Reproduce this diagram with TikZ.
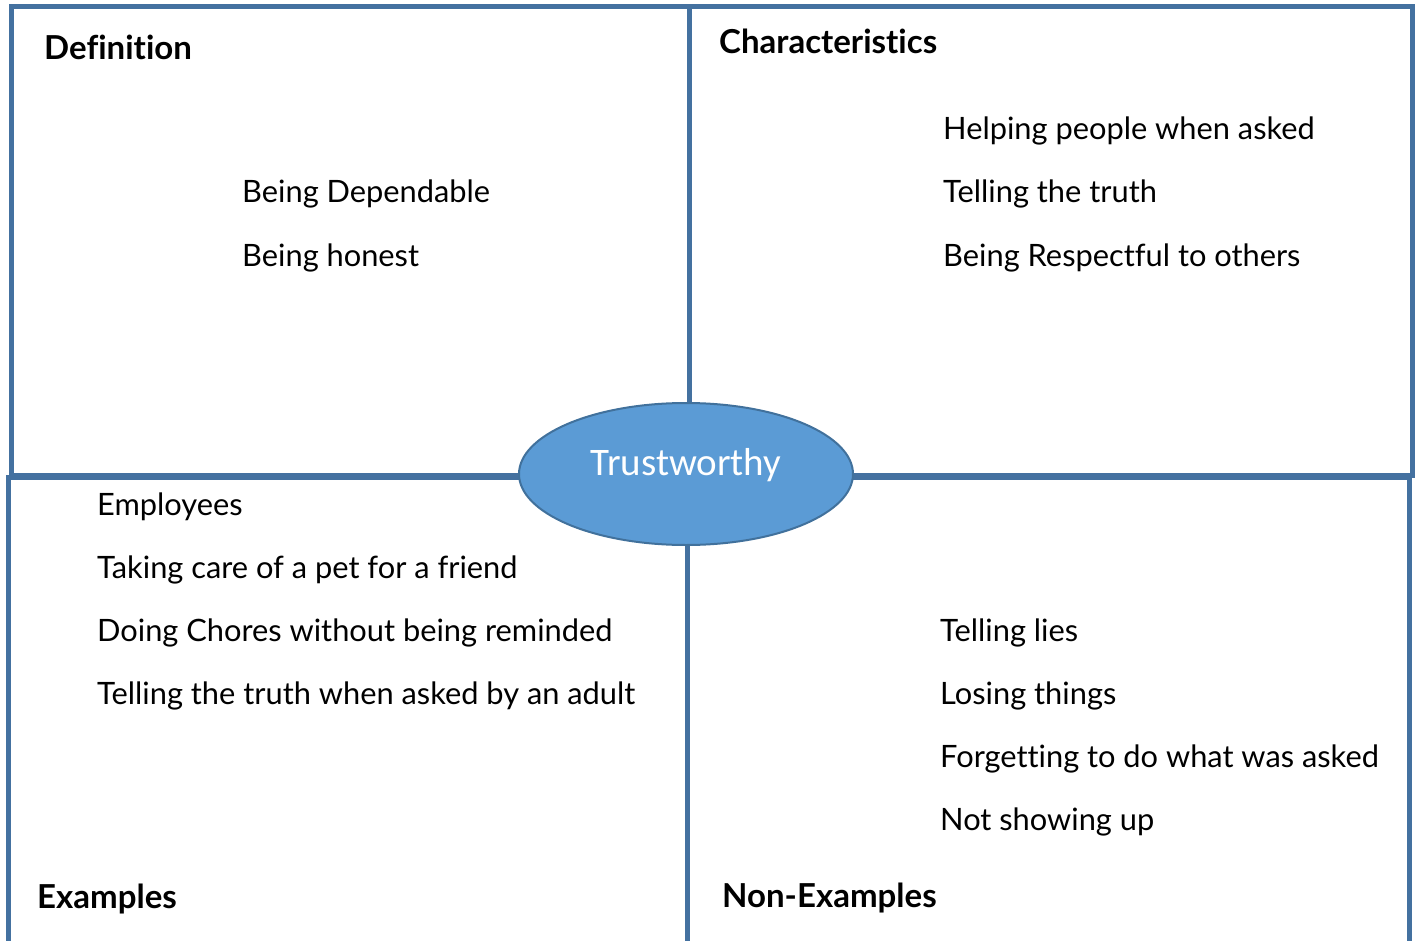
\documentclass[tikz,border=0pt]{standalone}
\usepackage{fontspec}
\setmainfont{Lato}[Ligatures=NoCommon]
\newfontfamily\ovalfont{Carlito}
\usetikzlibrary{shapes.geometric}
\definecolor{frameblue}{HTML}{4471A0}
\definecolor{ovalfill}{HTML}{5B9BD5}
\definecolor{ovaldraw}{HTML}{41719C}

\begin{document}
\begin{tikzpicture}[x=1pt,y=-1pt,
    quad/.style={draw=frameblue,line width=5pt},
    heading/.style={anchor=base west,inner sep=0pt,font=\fontsize{33}{38}\selectfont\bfseries},
    entry/.style={anchor=base west,inner sep=0pt,font=\fontsize{30.8}{36}\selectfont}]

    \useasboundingbox (0,0) rectangle (1418,941);

    % the four quarters
    \draw[quad] (11,7) rectangle (689,475);
    \draw[quad] (689,7) rectangle (1412,475);
    \draw[quad] (8,477) rectangle (687,960);
    \draw[quad] (687,477) rectangle (1409,960);

    % headings
    \node[heading] (def)  at (44,60)   {Definition};
    \node[heading] (char) at (719,54)  {Characteristics};
    \node[heading] (ex)   at (37,908)  {Examples};
    \node[heading] (nonex) at (722,907) {Non-Examples};

    % definition
    \node[entry] (d1) at (242,203) {Being Dependable};
    \node[entry] (d2) at (242,266) {Being honest};

    % characteristics
    \node[entry] (c1) at (943,140) {Helping people when asked};
    \node[entry] (c2) at (943,203) {Telling the truth};
    \node[entry] (c3) at (943,266) {Being Respectful to others};

    % examples
    \node[entry] (e1) at (97,515) {Employees};
    \node[entry] (e2) at (97,578) {Taking care of a pet for a friend};
    \node[entry] (e3) at (97,641) {Doing Chores without being reminded};
    \node[entry] (e4) at (97,704) {Telling the truth when asked by an adult};

    % non-examples
    \node[entry] (n1) at (940,641) {Telling lies};
    \node[entry] (n2) at (940,704) {Losing things};
    \node[entry] (n3) at (940,767) {Forgetting to do what was asked};
    \node[entry] (n4) at (940,830) {Not showing up};

    % centre
    \node[ellipse,fill=ovalfill,draw=ovaldraw,line width=2pt,
          minimum width=334pt,minimum height=142pt] (word) at (686,474) {};
    \node[anchor=base,inner sep=0pt,text=white,font=\ovalfont\fontsize{39}{44}\selectfont]
          (wordtext) at (686,475) {Trustworthy};
\end{tikzpicture}
\end{document}
